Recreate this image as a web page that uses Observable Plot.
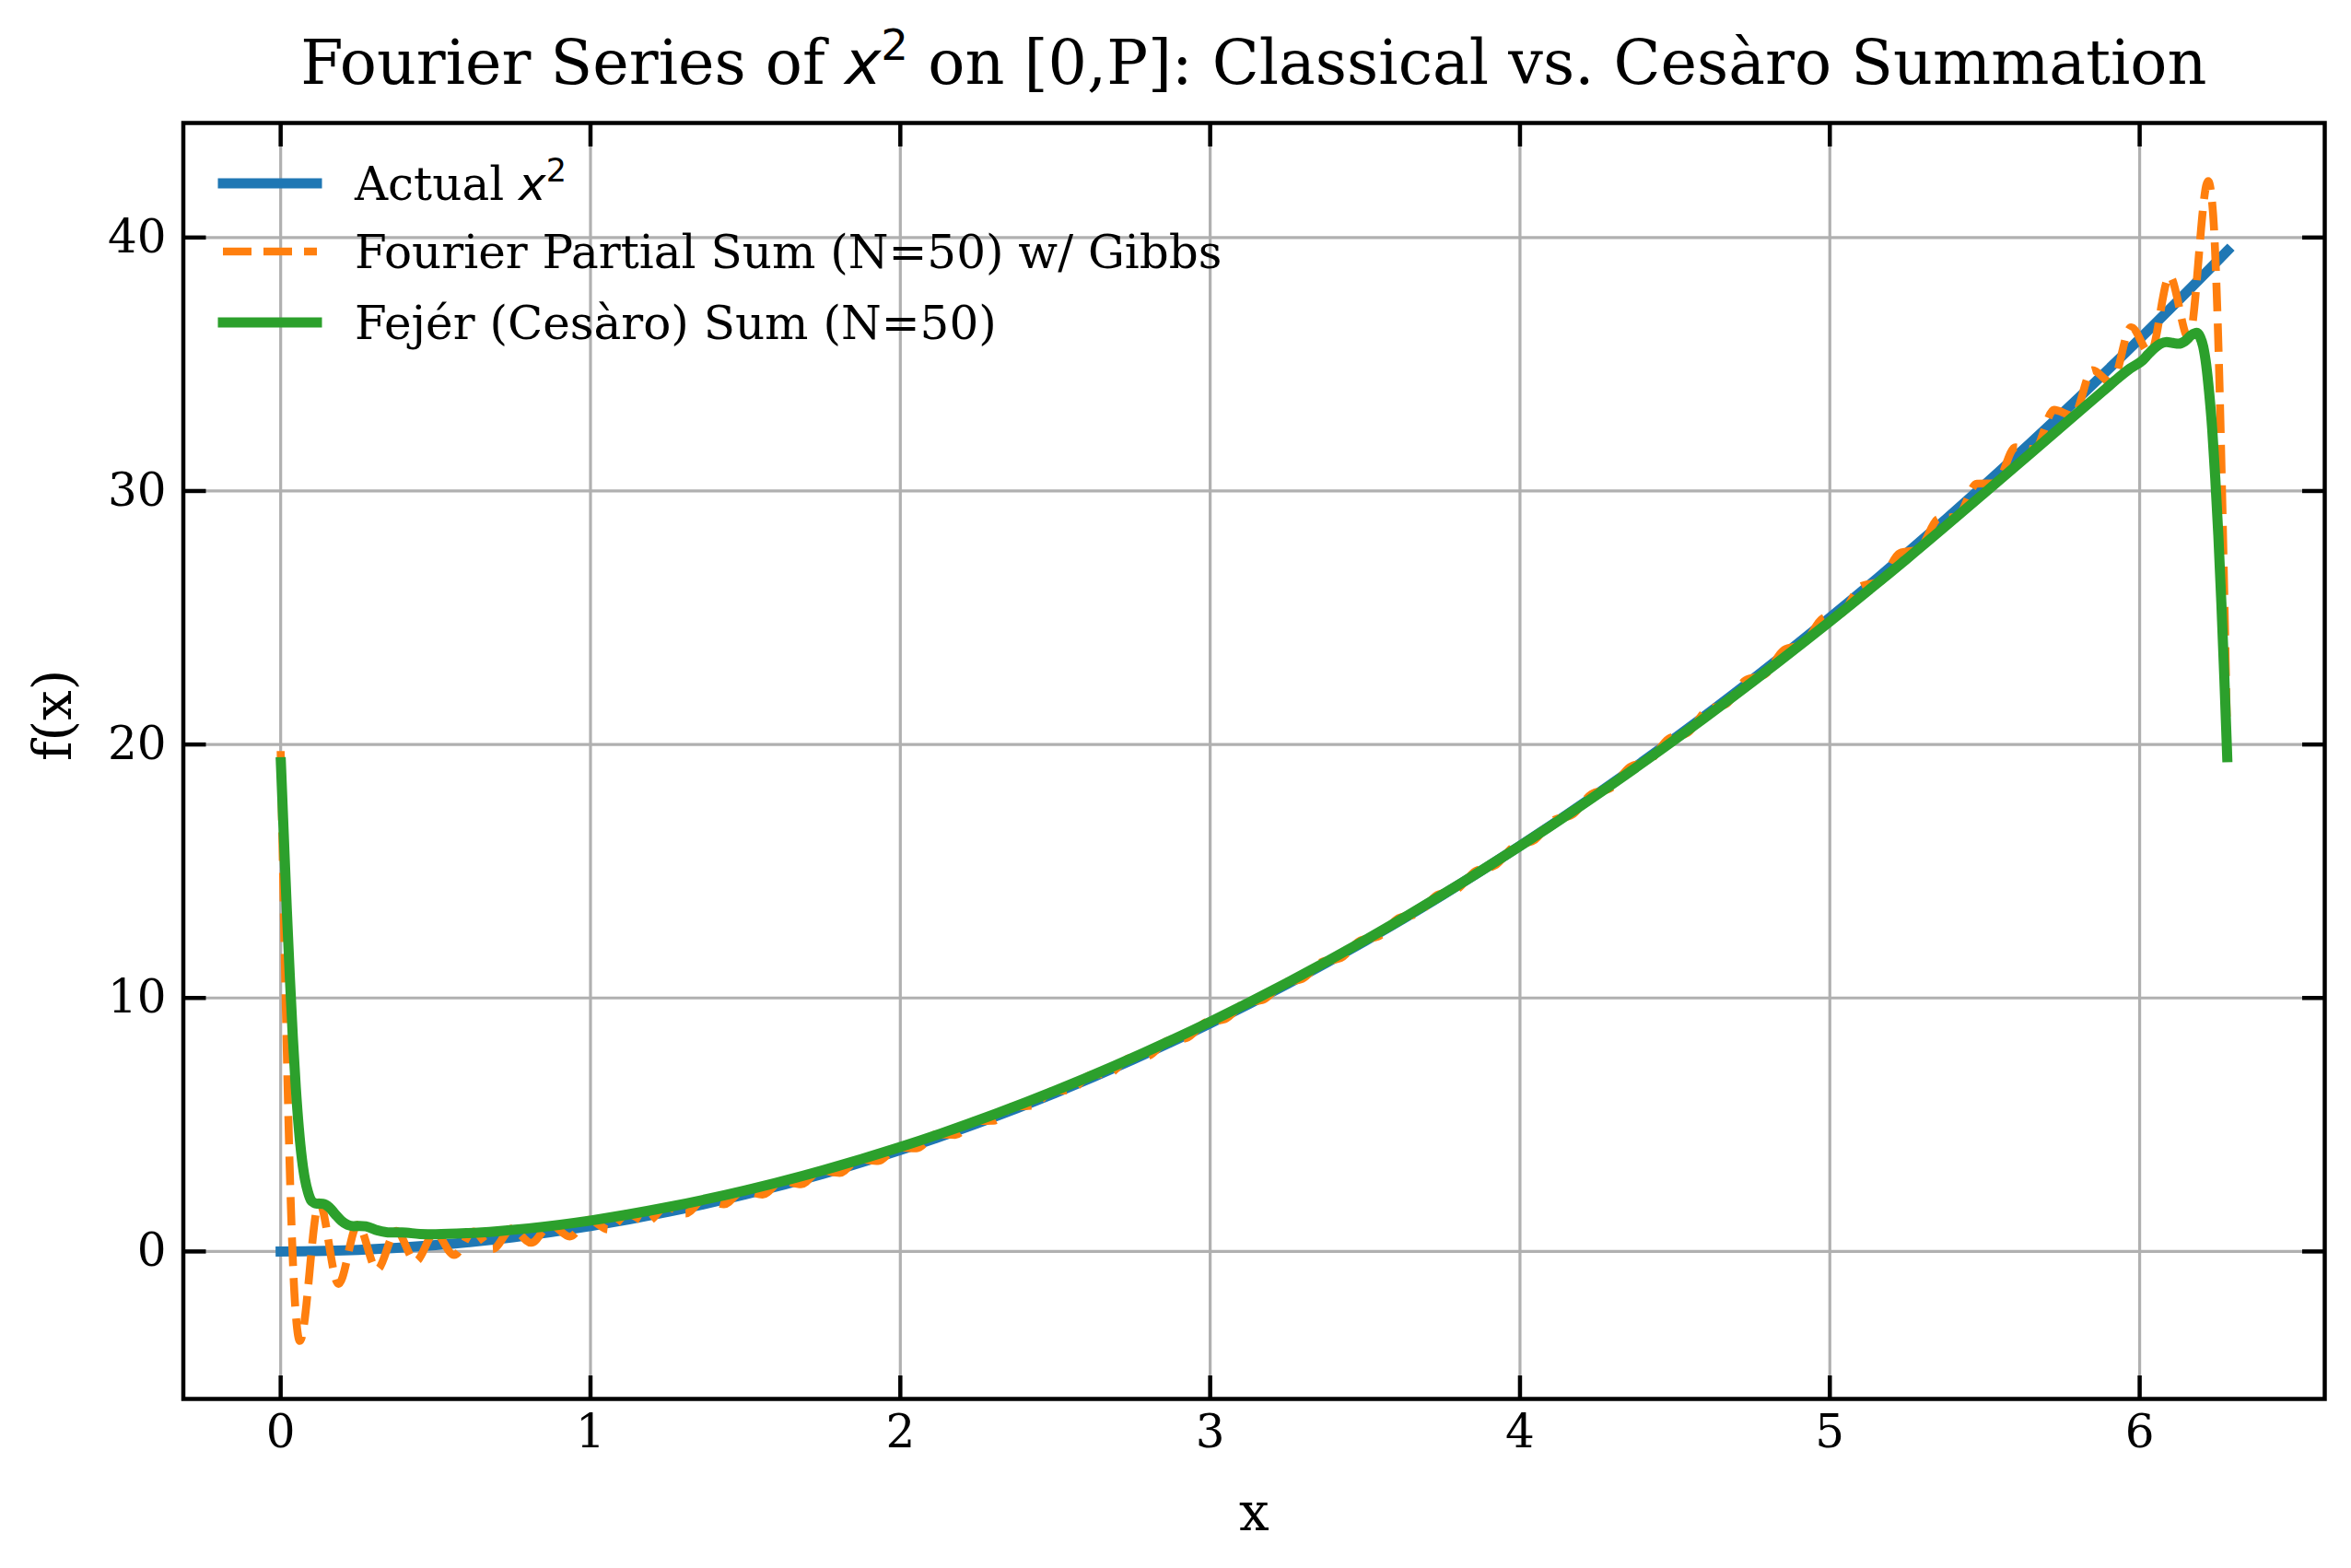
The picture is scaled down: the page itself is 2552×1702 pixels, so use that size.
<!DOCTYPE html>
<html>
<head>
<meta charset="utf-8">
<script src="https://cdn.jsdelivr.net/npm/d3@7"></script>
<script src="https://cdn.jsdelivr.net/npm/@observablehq/plot@0.6"></script>
<style>
  html, body { margin: 0; padding: 0; background: #fff; overflow: hidden; }
  #wrap { position: relative; width: 2552px; height: 1702px; font-family: 'DejaVu Serif', serif; color: #000; }
  #chart { position: absolute; left: 0; top: 0; }
  #title { position: absolute; left: 198.5px; width: 2324.5px; top: 34.6px; text-align: center;
           font-size: 66.7px; line-height: 66.7px; white-space: nowrap; }
  .math { font-family: 'DejaVu Sans', sans-serif; font-style: italic; }
  .sup { font-family: 'DejaVu Sans', sans-serif; font-size: 70%; position: relative; top: -0.55em; }
  .lg-text { position: absolute; left: 385px; font-size: 50px; line-height: 50px; white-space: nowrap; }
  .lg-key { position: absolute; left: 232px; }
</style>
</head>
<body>
<div id="wrap">
  <div id="chart"></div>
  <div id="title">Fourier Series of <span class="math">x</span><span class="sup">2</span> on [0,P]: Classical vs. Cesàro Summation</div>
  <div id="legend"></div>
</div>
<script>
// ---------- data ----------
const xTicks = [0, 1, 2, 3, 4, 5, 6];
const yTicks = [0, 10, 20, 30, 40];

const seriesNames = ["Actual", "Fourier Partial Sum (N=50) w/ Gibbs", "Fejér (Cesàro) Sum (N=50)"];
const seriesColors = ["#1f77b4", "#ff7f0e", "#2ca02c"];

// Actual x^2
const actualX = [0, 0.25, 0.5, 0.75, 1, 1.25, 1.5, 1.75, 2, 2.25, 2.5, 2.75, 3, 3.25, 3.5, 3.75, 4, 4.25, 4.5, 4.75, 5, 5.25, 5.5, 5.75, 6, 6.25, 6.2832];
const actualY = [0, 0.0625, 0.25, 0.5625, 1, 1.5625, 2.25, 3.0625, 4, 5.0625, 6.25, 7.5625, 9, 10.5625, 12.25, 14.0625, 16, 18.0625, 20.25, 22.5625, 25, 27.5625, 30.25, 33.0625, 36, 39.0625, 39.478];

// Fourier partial sum (N=50): start, oscillation extrema, end
const fourierX = [0, 0.0079, 0.0156, 0.0311, 0.0467,
  0.0622, 0.1244, 0.1866, 0.2488, 0.3111, 0.3733, 0.4355, 0.4977, 0.5599, 0.6221,
  0.6843, 0.7465, 0.8087, 0.8709, 0.9332, 0.9954, 1.0576, 1.1198, 1.1820, 1.2442,
  1.3064, 1.3686, 1.4308, 1.4930, 1.5553, 1.6175, 1.6797, 1.7419, 1.8041, 1.8663,
  1.9285, 1.9907, 2.0529, 2.1151, 2.1774, 2.2396, 2.3018, 2.3640, 2.4262, 2.4884,
  2.5506, 2.6128, 2.6750, 2.7372, 2.7995, 2.8617, 2.9239, 2.9861, 3.0483, 3.1105,
  3.1727, 3.2349, 3.2971, 3.3593, 3.4216, 3.4838, 3.5460, 3.6082, 3.6704, 3.7326,
  3.7948, 3.8570, 3.9192, 3.9814, 4.0437, 4.1059, 4.1681, 4.2303, 4.2925, 4.3547,
  4.4169, 4.4791, 4.5413, 4.6035, 4.6658, 4.7280, 4.7902, 4.8524, 4.9146, 4.9768,
  5.0390, 5.1012, 5.1634, 5.2256, 5.2879, 5.3501, 5.4123, 5.4745, 5.5367, 5.5989,
  5.6611, 5.7233, 5.7855, 5.8477, 5.9100, 5.9722, 6.0344, 6.0966, 6.1588, 6.2210,
  6.2365, 6.2521, 6.2676, 6.2753, 6.2832];
const fourierY = [19.74, 14.76, 10.20, 2.51, -2.12,
  -3.53, 1.94, -1.28, 1.06, -0.71, 0.81, -0.39, 0.75, -0.14, 0.79,
  0.10, 0.90, 0.34, 1.05, 0.59, 1.25, 0.87, 1.49, 1.17, 1.76,
  1.50, 2.07, 1.86, 2.41, 2.24, 2.79, 2.65, 3.20, 3.10, 3.64,
  3.57, 4.11, 4.07, 4.62, 4.60, 5.15, 5.16, 5.72, 5.75, 6.32,
  6.38, 6.96, 7.03, 7.62, 7.71, 8.31, 8.42, 9.04, 9.17, 9.80,
  9.94, 10.59, 10.75, 11.41, 11.58, 12.26, 12.45, 13.15, 13.34, 14.06,
  14.27, 15.01, 15.23, 15.99, 16.21, 17.00, 17.23, 18.04, 18.28, 19.11,
  19.35, 20.22, 20.46, 21.36, 21.60, 22.53, 22.76, 23.73, 23.96, 24.97,
  25.18, 26.24, 26.43, 27.55, 27.70, 28.90, 29.00, 30.29, 30.31, 31.72,
  31.64, 33.20, 32.96, 34.77, 34.26, 36.46, 35.42, 38.47, 36.01, 42.23,
  41.01, 36.58, 29.08, 24.62, 19.74];

// Fejér (Cesàro) sum (N=50)
const fejerX = [0, 0.0098, 0.0196, 0.0294, 0.0392, 0.0490, 0.0588, 0.0686, 0.0784, 0.0882,
  0.0980, 0.1078, 0.1176, 0.1370, 0.1570, 0.1760, 0.1960, 0.2160, 0.2350, 0.2550,
  0.2750, 0.3140, 0.3530, 0.3920, 0.45, 0.5, 0.6, 0.7, 0.8, 1.0,
  1.25, 1.5, 1.75, 2.0, 2.5, 3.0, 3.5, 4.0, 4.5, 5.0,
  5.25, 5.5, 5.75, 5.891, 5.930, 5.969, 6.009, 6.028, 6.048, 6.067,
  6.087, 6.107, 6.126, 6.146, 6.166, 6.185, 6.195, 6.205, 6.2146, 6.224,
  6.2342, 6.244, 6.254, 6.2636, 6.2734, 6.2832];
const fejerY = [19.5, 16.5, 13.55, 10.88, 8.46, 6.44, 4.84, 3.65, 2.85, 2.34,
  2.02, 1.92, 1.89, 1.88, 1.74, 1.47, 1.21, 1.05, 1.00, 1.01,
  0.99, 0.83, 0.75, 0.75, 0.69, 0.68, 0.72, 0.80, 0.91, 1.22,
  1.75, 2.41, 3.20, 4.12, 6.34, 9.06, 12.28, 15.99, 20.19, 24.85,
  27.34, 29.93, 32.56, 34.04, 34.45, 34.83, 35.15, 35.40, 35.64, 35.81,
  35.88, 35.84, 35.81, 35.91, 36.14, 36.24, 36.08, 35.70, 34.99, 33.92,
  32.44, 30.51, 28.24, 25.61, 22.6, 19.3];

// ---------- tables ----------
const toRows = (xs, ys) => xs.map((x, i) => ({x, y: ys[i]}));
const actual = toRows(actualX, actualY);
const fourier = toRows(fourierX, fourierY);
const fejer = toRows(fejerX, fejerY);

// matplotlib-like 5% autoscale margins
const allX = [...actualX, ...fourierX, ...fejerX];
const allY = [...actualY, ...fourierY, ...fejerY];
const [x0, x1] = d3.extent(allX), [y0, y1] = d3.extent(allY);
const xPad = (x1 - x0) * 0.05, yPad = (y1 - y0) * 0.05;

const FONT = "'DejaVu Serif', serif";
const tickStroke = 4.5;

const chart = Plot.plot({
  width: 2552,
  height: 1702,
  marginLeft: 198.5,
  marginRight: 29,
  marginTop: 133,
  marginBottom: 184,
  style: {fontFamily: FONT, fontSize: "50px", background: "white", color: "black", overflow: "visible"},
  x: {domain: [x0 - xPad, x1 + xPad]},
  y: {domain: [y0 - yPad, y1 + yPad]},
  marks: [
    Plot.gridX(xTicks, {stroke: "#b0b0b0", strokeOpacity: 1, strokeWidth: 3.2}),
    Plot.gridY(yTicks, {stroke: "#b0b0b0", strokeOpacity: 1, strokeWidth: 3.2}),
    Plot.line(actual, {x: "x", y: "y", stroke: seriesColors[0], strokeWidth: 11,
      curve: "monotone-x", strokeLinecap: "square", strokeLinejoin: "round"}),
    Plot.line(fourier, {x: "x", y: "y", stroke: seriesColors[1], strokeWidth: 8.6,
      strokeDasharray: "31,13", curve: "monotone-x", strokeLinecap: "butt", strokeLinejoin: "round"}),
    Plot.line(fejer, {x: "x", y: "y", stroke: seriesColors[2], strokeWidth: 11,
      curve: "monotone-x", strokeLinecap: "butt", strokeLinejoin: "round"}),
    Plot.axisX(xTicks, {anchor: "bottom", tickSize: -25, tickPadding: 41.5, strokeWidth: tickStroke,
      fontSize: 50, tickFormat: "d", label: null}),
    Plot.axisX(xTicks, {anchor: "top", tickSize: -25, strokeWidth: tickStroke, tickFormat: () => "", label: null}),
    Plot.axisY(yTicks, {anchor: "left", tickSize: -25, tickPadding: 43.5, strokeWidth: tickStroke,
      fontSize: 50, tickFormat: "d", label: null}),
    Plot.axisY(yTicks, {anchor: "right", tickSize: -25, strokeWidth: tickStroke, tickFormat: () => "", label: null}),
    Plot.frame({stroke: "black", strokeWidth: 4.5}),
    Plot.text(["x"], {frameAnchor: "bottom", dy: 142, fontSize: 58, fill: "black"}),
    Plot.text(["f(x)"], {frameAnchor: "left", dx: -141, rotate: -90, fontSize: 58, fill: "black"})
  ]
});
document.getElementById("chart").appendChild(chart);

// ---------- legend (overlay inside the axes, no frame) ----------
const legend = document.getElementById("legend");
const rowCenters = [199, 273, 350];
const dashes = [null, "31,13", null];
const widths = [11, 8.6, 11];
seriesNames.forEach((name, i) => {
  const c = rowCenters[i];
  const key = document.createElementNS("http://www.w3.org/2000/svg", "svg");
  key.setAttribute("width", 122);
  key.setAttribute("height", 24);
  key.setAttribute("class", "lg-key");
  key.style.top = (c - 12) + "px";
  const ln = document.createElementNS("http://www.w3.org/2000/svg", "line");
  ln.setAttribute("x1", 10); ln.setAttribute("x2", 112);
  ln.setAttribute("y1", 12); ln.setAttribute("y2", 12);
  ln.setAttribute("stroke", seriesColors[i]);
  ln.setAttribute("stroke-width", widths[i]);
  ln.setAttribute("stroke-linecap", dashes[i] ? "butt" : "square");
  if (dashes[i]) ln.setAttribute("stroke-dasharray", dashes[i]);
  key.appendChild(ln);
  legend.appendChild(key);
  const t = document.createElement("div");
  t.className = "lg-text";
  t.style.top = (c - 24.3) + "px";
  if (i === 0) {
    t.innerHTML = name + ' <span class="math">x</span><span class="sup">2</span>';
  } else {
    t.textContent = name;
  }
  legend.appendChild(t);
});
</script>
</body>
</html>
